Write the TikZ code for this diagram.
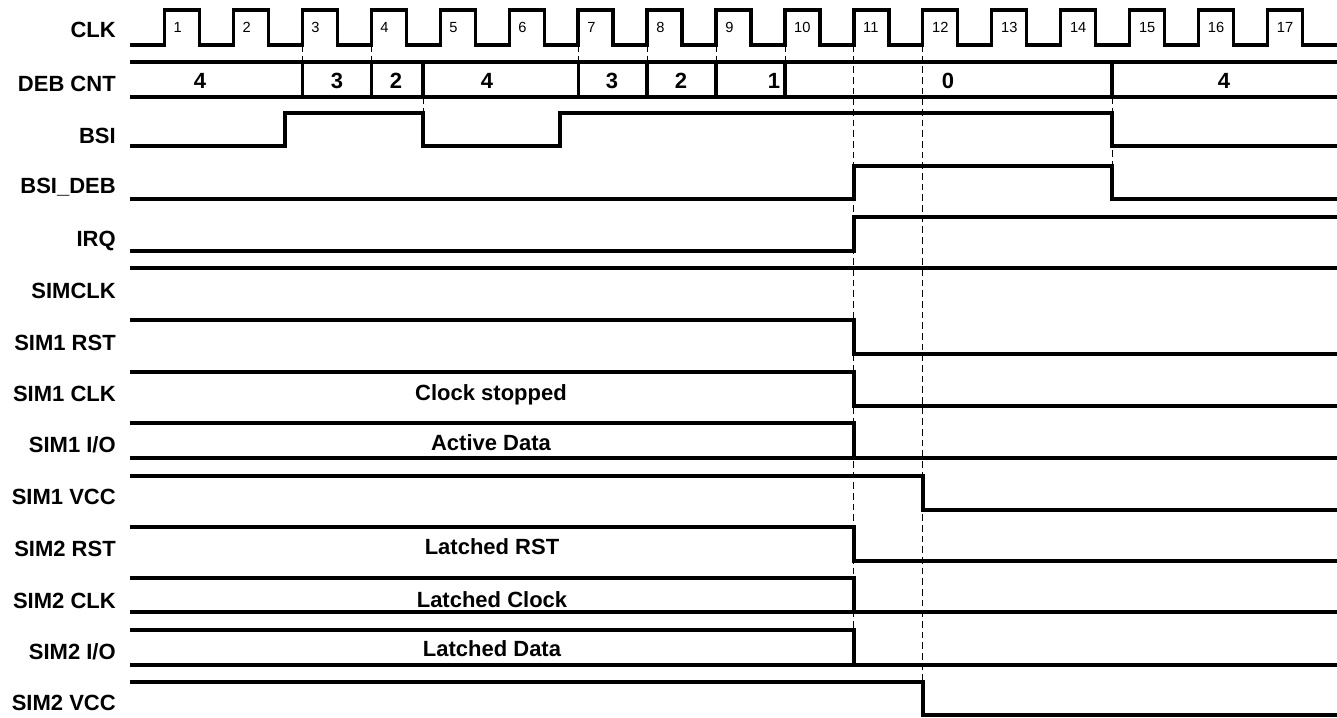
\documentclass[tikz,border=0pt]{standalone}
\usepackage{fontspec}
\setmainfont{Liberation Sans}
\usetikzlibrary{positioning}
\tikzset{
  sig/.style={line width=2.4pt, line join=miter},
  guide/.style={line width=0.75pt, dash pattern=on 5pt off 3pt},
  lbl/.style={anchor=base east, inner sep=0pt, font=\fontsize{16.5}{18}\selectfont\bfseries},
  busval/.style={anchor=base, inner sep=0pt, font=\fontsize{16.5}{18}\selectfont\bfseries},
  clknum/.style={anchor=base west, inner sep=0pt, font=\fontsize{11}{13}\selectfont},
}

\begin{document}
\begin{tikzpicture}[x=0.75pt, y=-0.75pt]
    \useasboundingbox (0,0) rectangle (1337,717);

    % signal names
    \foreach \txt/\yy/\nm in {CLK/30/clk, DEB CNT/83/deb, BSI/135/bsi, BSI\_DEB/185/bsideb,
        IRQ/238/irq, SIMCLK/290/simclk, SIM1 RST/342/rsta, SIM1 CLK/393/clka,
        {SIM1 I/O}/444/ioa, SIM1 VCC/496/vcca, SIM2 RST/548/rstb, SIM2 CLK/600/clkb,
        {SIM2 I/O}/651/iob, SIM2 VCC/702/vccb}
        \node[lbl] (\nm) at (116,\yy+8) {\txt};

    % clock
    \draw[sig] (130,45) \foreach \k [evaluate=\k as \r using 164.3+68.96*(\k-1)] in {1,...,17} {
        -- (\r,45) -- (\r,10) -- (\r+35,10) -- (\r+35,45) } -- (1337,45);
    \foreach \k [evaluate=\k as \r using 164.3+68.96*(\k-1)] in {1,...,17}
        \node[clknum] (c\k) at (\r+9,32.5) {\k};

    % debounce counter
    \draw[sig] (130,62) -- (1337,62) (130,97) -- (1337,97);
    \foreach \xx in {302.2,371.2,423,578.1,647,716,785,1112}
        \draw[sig] (\xx,62) -- (\xx,97);
    \foreach \v/\xx/\nm in {4/200/da, 3/337/db, 2/396/dc, 4/487/dd, 3/612/de, 2/681/df, 1/774/dg, 0/948/dh, 4/1224/di}
        \node[busval] (\nm) at (\xx,89) {\v};

    % guides
    \foreach \xx in {302.2,371.2,578.1,647,716,785}
        \draw[guide] (\xx,45) -- (\xx,62);
    \draw[guide] (423,97) -- (423,113);
    \draw[guide] (1112,97) -- (1112,166);
    \draw[guide] (853.9,45) -- (853.9,665);
    \draw[guide] (922.9,45) -- (922.9,682);

    % inputs
    \draw[sig] (130,146) -- (285,146) -- (285,113) -- (423,113) -- (423,146) -- (560,146)
        -- (560,113) -- (1112,113) -- (1112,146) -- (1337,146);
    \draw[sig] (130,199) -- (853.9,199) -- (853.9,166) -- (1112,166) -- (1112,199) -- (1337,199);
    \draw[sig] (130,251) -- (853.9,251) -- (853.9,217) -- (1337,217);
    \draw[sig] (130,268) -- (1337,268);

    % sim 1
    \draw[sig] (130,320) -- (853.9,320) -- (853.9,354) -- (1337,354);
    \draw[sig] (130,372) -- (853.9,372) -- (853.9,406) -- (1337,406);
    \draw[sig] (130,423) -- (853.9,423) -- (853.9,458) (130,458) -- (1337,458);
    \draw[sig] (130,476) -- (922.9,476) -- (922.9,510) -- (1337,510);
    \node[busval] (stopped) at (491,400) {Clock stopped};
    \node[busval] (active) at (491,450) {Active Data};

    % sim 2
    \draw[sig] (130,527) -- (853.9,527) -- (853.9,561) -- (1337,561);
    \draw[sig] (130,578) -- (853.9,578) -- (853.9,612) (130,612) -- (1337,612);
    \draw[sig] (130,630) -- (853.9,630) -- (853.9,665) (130,665) -- (1337,665);
    \draw[sig] (130,682) -- (922.9,682) -- (922.9,715) -- (1337,715);
    \node[busval] (lrst) at (492,554) {Latched RST};
    \node[busval] (lclk) at (492,607) {Latched Clock};
    \node[busval] (ldata) at (492,656) {Latched Data};
\end{tikzpicture}
\end{document}
